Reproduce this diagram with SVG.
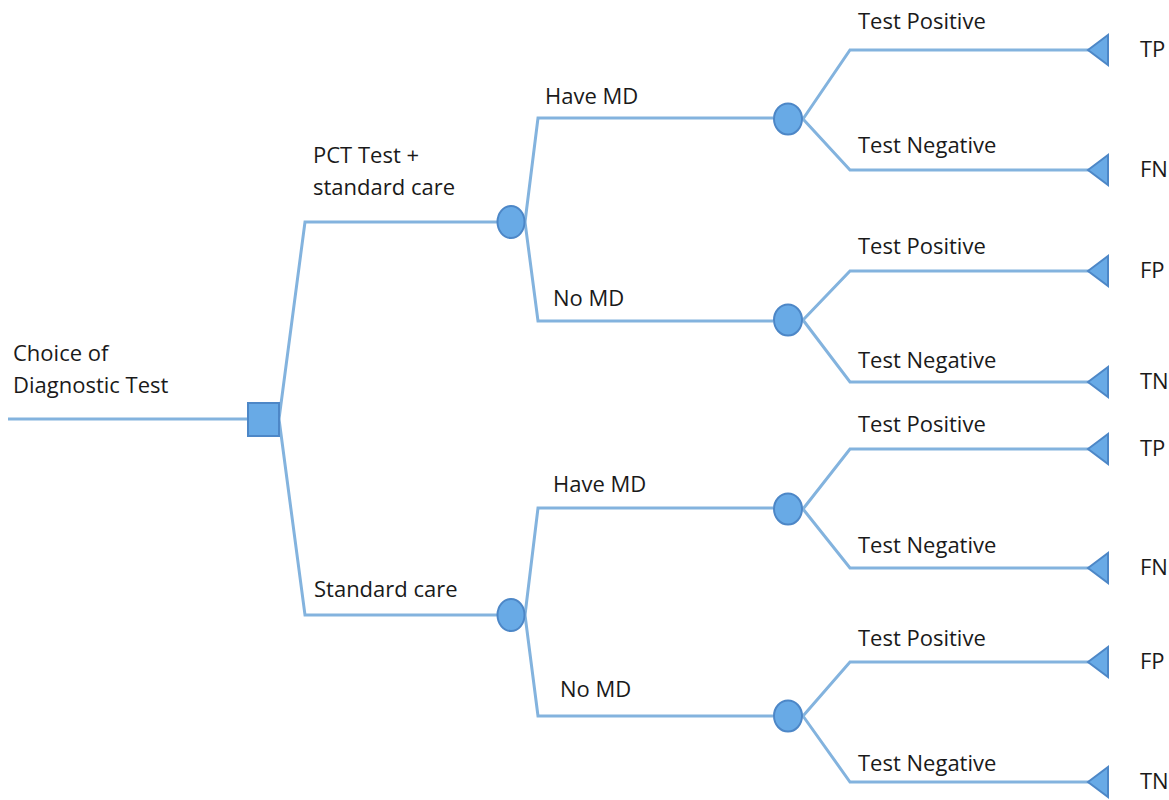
<svg xmlns="http://www.w3.org/2000/svg" width="1169" height="800" viewBox="0 0 1169 800">
<style>
.ln{fill:none;stroke:#83b3de;stroke-width:3;stroke-linejoin:miter}
.nd{fill:#68aae6;stroke:#4d87c7;stroke-width:2}
text{font-family:"Open Sans","Liberation Sans",sans-serif;font-size:22px;fill:#1a1a1a}
</style>
<rect width="1169" height="800" fill="#fff"/>
<g id="connectors">
<path class="ln" d="M8,419 H248"/>
<path class="ln" d="M279,419 L305,222 H498"/>
<path class="ln" d="M279,419 L305,615 H498"/>
<path class="ln" d="M525,222 L538,118 H773"/>
<path class="ln" d="M525,222 L538,321 H773"/>
<path class="ln" d="M525,615 L538,508 H773"/>
<path class="ln" d="M525,615 L538,716 H773"/>
<path class="ln" d="M803,119 L850,50 H1090"/>
<path class="ln" d="M803,119 L850,170 H1090"/>
<path class="ln" d="M803,320 L850,271 H1090"/>
<path class="ln" d="M803,320 L850,382 H1090"/>
<path class="ln" d="M803,509 L850,449 H1090"/>
<path class="ln" d="M803,509 L850,568 H1090"/>
<path class="ln" d="M803,716 L850,662 H1090"/>
<path class="ln" d="M803,716 L850,782 H1090"/>
</g>
<g id="decision"><rect class="nd" x="248" y="403" width="31" height="33"/></g>
<g id="chance1"><ellipse class="nd" cx="511" cy="222" rx="13.5" ry="16"/></g>
<g id="chance2"><ellipse class="nd" cx="511" cy="615" rx="13.5" ry="16"/></g>
<g id="chance3"><ellipse class="nd" cx="788" cy="119" rx="14" ry="15.5"/></g>
<g id="chance4"><ellipse class="nd" cx="788" cy="320" rx="14" ry="15.5"/></g>
<g id="chance5"><ellipse class="nd" cx="788" cy="509" rx="14" ry="15.5"/></g>
<g id="chance6"><ellipse class="nd" cx="788" cy="716" rx="14" ry="15.5"/></g>
<g id="term1"><polygon class="nd" points="1088,50 1108,35 1108,65"/><text x="1140" y="57">TP</text></g>
<g id="term2"><polygon class="nd" points="1088,170 1108,155 1108,185"/><text x="1140" y="177">FN</text></g>
<g id="term3"><polygon class="nd" points="1088,271 1108,256 1108,286"/><text x="1140" y="278">FP</text></g>
<g id="term4"><polygon class="nd" points="1088,382 1108,367 1108,397"/><text x="1140" y="389">TN</text></g>
<g id="term5"><polygon class="nd" points="1088,449 1108,434 1108,464"/><text x="1140" y="456">TP</text></g>
<g id="term6"><polygon class="nd" points="1088,568 1108,553 1108,583"/><text x="1140" y="575">FN</text></g>
<g id="term7"><polygon class="nd" points="1088,662 1108,647 1108,677"/><text x="1140" y="669">FP</text></g>
<g id="term8"><polygon class="nd" points="1088,782 1108,767 1108,797"/><text x="1140" y="789">TN</text></g>
<g id="labels">
<text x="13" y="361">Choice of</text>
<text x="13" y="393">Diagnostic Test</text>
<text x="313" y="163">PCT Test +</text>
<text x="313" y="195">standard care</text>
<text x="314" y="597">Standard care</text>
<text x="545" y="104">Have MD</text>
<text x="553" y="306">No MD</text>
<text x="553" y="492">Have MD</text>
<text x="560" y="697">No MD</text>
<text x="858" y="29">Test Positive</text>
<text x="858" y="153">Test Negative</text>
<text x="858" y="254">Test Positive</text>
<text x="858" y="368">Test Negative</text>
<text x="858" y="432">Test Positive</text>
<text x="858" y="553">Test Negative</text>
<text x="858" y="646">Test Positive</text>
<text x="858" y="771">Test Negative</text>
</g>
</svg>
